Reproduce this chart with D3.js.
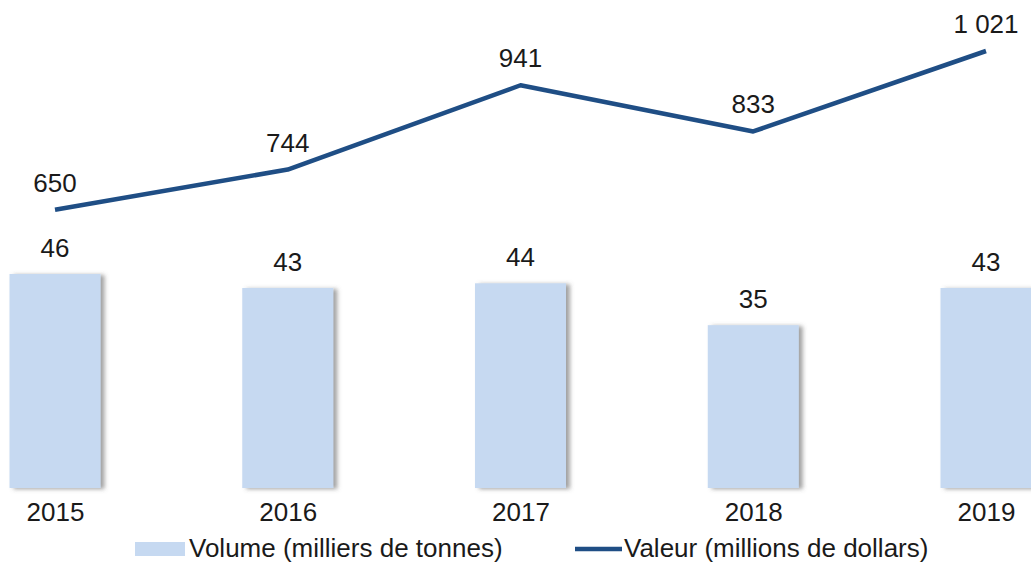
<!DOCTYPE html>
<html>
<head>
<meta charset="utf-8">
<script src="https://cdn.jsdelivr.net/npm/d3@7"></script>
<style>
  body { margin: 0; background: #fff; }
  text { font-family: "Liberation Sans", Arial, sans-serif; fill: #1a1a1a; }
</style>
</head>
<body>
<div id="chart"></div>
<script>
// data
var years = ["2015", "2016", "2017", "2018", "2019"];
var volume = [46, 43, 44, 35, 43];
var valeur = [650, 744, 941, 833, 1021];
var valeurLabels = ["650", "744", "941", "833", "1 021"];

var width = 1031, height = 563;
var baseline = 488;
var fontSize = "26px";

var svg = d3.select("#chart")
  .append("svg")
    .attr("width", width)
    .attr("height", height);

var defs = svg.append("defs");
var shadow = defs.append("filter")
    .attr("id", "shadow")
    .attr("x", "-10%").attr("y", "-10%")
    .attr("width", "130%").attr("height", "130%");
shadow.append("feDropShadow")
    .attr("dx", 4).attr("dy", 1)
    .attr("stdDeviation", 2)
    .attr("flood-color", "#555")
    .attr("flood-opacity", 0.55);

// x positions of the categories
var x = d3.scalePoint()
    .domain(years)
    .range([55, 986]);

// bars and line share a zero baseline but have their own scales
var yBar = d3.scaleLinear()
    .domain([0, 46])
    .range([baseline, 274]);

var yLine = d3.scaleLinear()
    .domain([0, 1021])
    .range([baseline, 51]);

var barWidth = 91;

svg.selectAll(".bar")
  .data(volume)
  .enter().append("rect")
    .attr("class", "bar")
    .attr("x", function(d, i) { return x(years[i]) - barWidth / 2; })
    .attr("y", function(d) { return yBar(d); })
    .attr("width", barWidth)
    .attr("height", function(d) { return baseline - yBar(d); })
    .attr("fill", "#c6d9f1")
    .attr("filter", "url(#shadow)");

svg.selectAll(".barLabel")
  .data(volume)
  .enter().append("text")
    .attr("class", "barLabel")
    .attr("x", function(d, i) { return x(years[i]); })
    .attr("y", function(d) { return yBar(d) - 17; })
    .attr("text-anchor", "middle")
    .style("font-size", fontSize)
    .text(function(d) { return d; });

var line = d3.line()
    .x(function(d, i) { return x(years[i]); })
    .y(function(d) { return yLine(d); });

svg.append("path")
    .datum(valeur)
    .attr("fill", "none")
    .attr("stroke", "#1f4e85")
    .attr("stroke-width", 4.5)
    .attr("stroke-linejoin", "round")
    .attr("d", line);

svg.selectAll(".lineLabel")
  .data(valeur)
  .enter().append("text")
    .attr("class", "lineLabel")
    .attr("x", function(d, i) { return x(years[i]); })
    .attr("y", function(d) { return yLine(d) - 18; })
    .attr("text-anchor", "middle")
    .style("font-size", fontSize)
    .text(function(d, i) { return valeurLabels[i]; });

// category axis, labels only
var xAxis = svg.append("g")
    .attr("transform", "translate(0," + baseline + ")")
    .call(d3.axisBottom(x).tickSize(0).tickPadding(0));
xAxis.select(".domain").remove();
xAxis.selectAll("text")
    .style("font-size", fontSize)
    .style("font-family", "Liberation Sans, Arial, sans-serif")
    .attr("fill", "#1a1a1a")
    .attr("y", 33)
    .attr("dy", null);

// legend
var legend = svg.append("g");
legend.append("rect")
    .attr("x", 135).attr("y", 542)
    .attr("width", 50).attr("height", 14)
    .attr("fill", "#c6d9f1");
legend.append("text")
    .attr("x", 189).attr("y", 557)
    .style("font-size", fontSize)
    .text("Volume (milliers de tonnes)");
legend.append("line")
    .attr("x1", 575).attr("x2", 622)
    .attr("y1", 549).attr("y2", 549)
    .attr("stroke", "#1f4e85")
    .attr("stroke-width", 4.5);
legend.append("text")
    .attr("x", 624).attr("y", 557)
    .style("font-size", fontSize)
    .text("Valeur (millions de dollars)");
</script>
</body>
</html>
